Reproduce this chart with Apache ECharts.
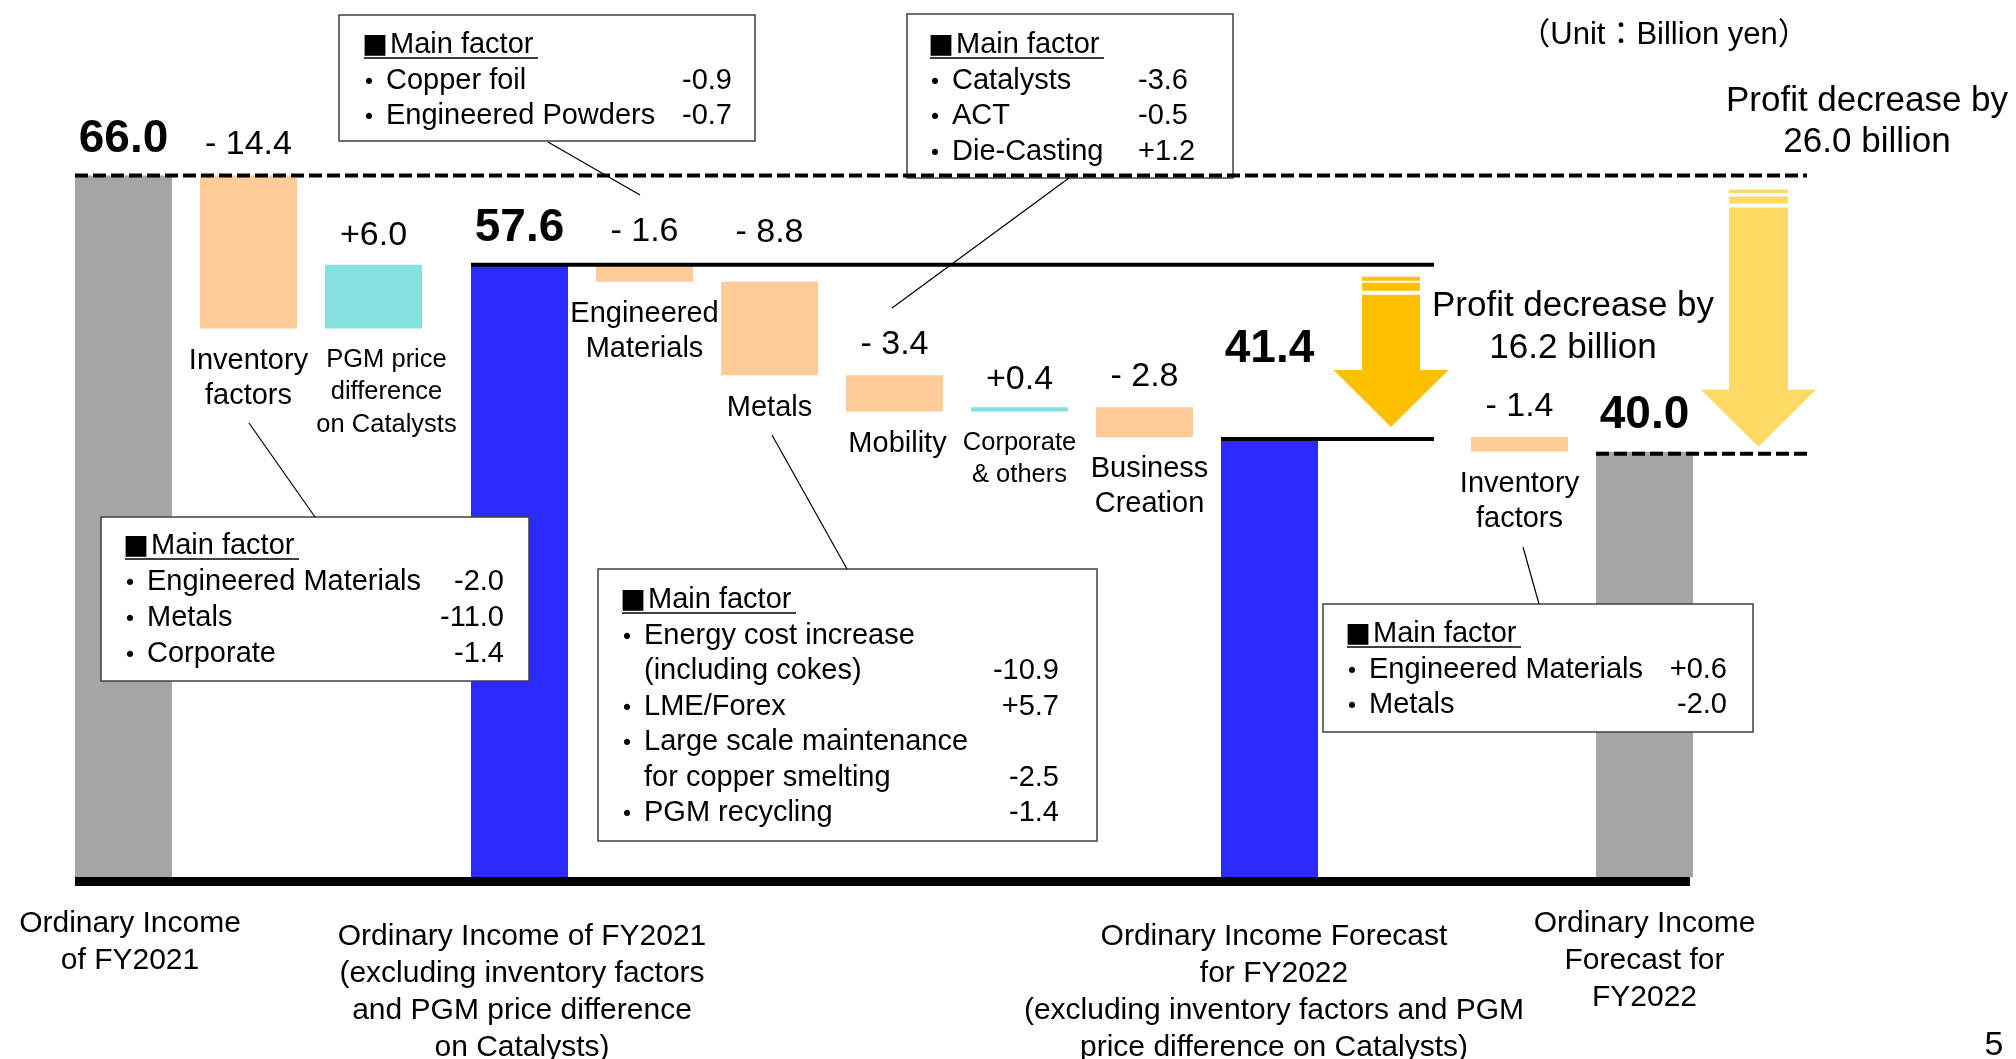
<!DOCTYPE html>
<html>
<head>
<meta charset="utf-8">
<script src="https://cdn.jsdelivr.net/npm/echarts@6/dist/echarts.min.js"></script>
<style>
  html, body { margin: 0; padding: 0; background: #ffffff; }
  #chart { width: 2016px; height: 1059px; }
</style>
</head>
<body>
<div id="chart"></div>
<script>
// Ordinary income bridge: FY2021 results -> FY2022 forecast (billion yen)

const stepLabels = [
  'Ordinary Income\nof FY2021',
  'Inventory\nfactors',
  'PGM price\ndifference\non Catalysts',
  'Ordinary Income of FY2021\n(excluding inventory factors\nand PGM price difference\non Catalysts)',
  'Engineered\nMaterials',
  'Metals',
  'Mobility',
  'Corporate\n& others',
  'Business\nCreation',
  'Ordinary Income Forecast\nfor FY2022\n(excluding inventory factors and PGM\nprice difference on Catalysts)',
  'Inventory\nfactors',
  'Ordinary Income\nForecast for\nFY2022'
];
const stepValues = [66.0, -14.4, 6.0, 57.6, -1.6, -8.8, -3.4, 0.4, -2.8, 41.4, -1.4, 40.0];
const stepKinds = ['reported', 'delta', 'delta', 'core', 'delta', 'delta', 'delta', 'delta', 'delta', 'core', 'delta', 'reported'];

// Breakdown boxes
const invFactorsFY2021 = [['Engineered Materials', '-2.0'], ['Metals', '-11.0'], ['Corporate', '-1.4']];
const engMatFactors = [['Copper foil', '-0.9'], ['Engineered Powders', '-0.7']];
const mobilityFactors = [['Catalysts', '-3.6'], ['ACT', '-0.5'], ['Die-Casting', '+1.2']];
const metalsFactors = [['Energy cost increase\n(including cokes)', '-10.9'], ['LME/Forex', '+5.7'],
  ['Large scale maintenance\nfor copper smelting', '-2.5'], ['PGM recycling', '-1.4']];
const invFactorsFY2022 = [['Engineered Materials', '+0.6'], ['Metals', '-2.0']];

const unitText = '（Unit：Billion yen）';
const decreaseCore = ['Profit decrease by', '16.2 billion'];
const decreaseTotal = ['Profit decrease by', '26.0 billion'];

// two panels: reported adjustments, then the core bridge (one empty slot holds the arrow)
const groups = [[0, 1, 2], [3, 4, 5, 6, 7, 8, 9, null, 10, 11]];

const FONT = '"Liberation Sans", Arial, sans-serif';
const CJK = '"Liberation Sans", "Noto Sans CJK JP", sans-serif';
const COLORS = { reported: '#a5a5a5', core: '#2b2bff', down: '#ffcc99', up: '#85e0e0' };
const BAR_W = 97;

// running levels of the waterfall
const lows = [], highs = [];
let level = 0;
stepValues.forEach((v, i) => {
  if (stepKinds[i] !== 'delta') { lows.push(0); highs.push(v); level = v; }
  else { const next = level + v; lows.push(Math.min(level, next)); highs.push(Math.max(level, next)); level = next; }
});

const labelLift = { 2: 12.5, 4: 16, 5: 32, 7: 11, 9: 64.5 };
const nameShift = { 2: 13, 6: 3, 8: 5 };
const smallName = { 2: true, 7: true };
const axisPad = { 0: [0, 0, 0, 13], 3: [13, 0, 0, 5], 9: [13, 0, 0, 9] };

function valueText(i) {
  const v = stepValues[i];
  if (stepKinds[i] !== 'delta') return v.toFixed(1);
  return v < 0 ? '- ' + Math.abs(v).toFixed(1) : '+' + v.toFixed(1);
}
function colorOf(i) {
  if (stepKinds[i] === 'delta') return stepValues[i] < 0 ? COLORS.down : COLORS.up;
  return COLORS[stepKinds[i]];
}
function baseItem(i) {
  const isDelta = stepKinds[i] === 'delta';
  const small = !!smallName[i];
  return {
    value: lows[i],
    itemStyle: { color: 'rgba(0,0,0,0)' },
    label: isDelta ? {
      show: true, position: 'insideTop', distance: 15,
      formatter: stepLabels[i], color: '#000', textBorderWidth: 0,
      fontFamily: FONT, fontSize: small ? 25.5 : 29, lineHeight: small ? 32.5 : 35,
      offset: [nameShift[i] || 0, 0]
    } : { show: false }
  };
}
function bodyItem(i) {
  const total = stepKinds[i] !== 'delta';
  return {
    value: highs[i] - lows[i],
    itemStyle: { color: colorOf(i) },
    label: {
      show: true, position: 'top',
      distance: labelLift[i] !== undefined ? labelLift[i] : 13.5,
      formatter: valueText(i), color: '#000', textBorderWidth: 0,
      fontFamily: FONT, fontSize: total ? 46 : 34, lineHeight: total ? 46 : 34,
      fontWeight: total ? 'bold' : 'normal'
    }
  };
}
function axisItem(i, k) {
  const item = { value: 'slot' + k };
  if (i !== null && stepKinds[i] !== 'delta' && axisPad[i]) item.textStyle = { padding: axisPad[i] };
  return item;
}

const option = {
  animation: false,
  backgroundColor: '#ffffff',
  grid: [
    { left: 61, width: 375, top: 133, height: 744, containLabel: false, outerBoundsMode: 'none' },
    { left: 457, width: 1250, top: 133, height: 744, containLabel: false, outerBoundsMode: 'none' }
  ],
  xAxis: groups.map((g, gi) => ({
    type: 'category', gridIndex: gi,
    data: g.map((i, k) => axisItem(i, k)),
    axisLine: { show: false }, axisTick: { show: false }, splitLine: { show: false },
    axisLabel: {
      interval: 0, hideOverlap: false, margin: 28.5,
      fontFamily: FONT, fontSize: 30, lineHeight: 37, color: '#000',
      formatter: (val, k) => {
        const i = g[k];
        return (i !== null && stepKinds[i] !== 'delta') ? stepLabels[i] : '';
      }
    }
  })),
  yAxis: groups.map((g, gi) => ({ type: 'value', gridIndex: gi, min: 0, max: 70, show: false })),
  series: groups.flatMap((g, gi) => [
    {
      type: 'bar', name: 'base' + gi, xAxisIndex: gi, yAxisIndex: gi, stack: 'wf' + gi,
      barWidth: BAR_W, silent: true,
      data: g.map(i => i === null ? '-' : baseItem(i))
    },
    {
      type: 'bar', name: 'step' + gi, xAxisIndex: gi, yAxisIndex: gi, stack: 'wf' + gi,
      barWidth: BAR_W,
      data: g.map(i => i === null ? '-' : bodyItem(i))
    }
  ])
};

const chart = echarts.init(document.getElementById('chart'), null, { renderer: 'canvas' });
chart.setOption(option);

// ---- annotation layer ----
const xc = (gi, slot) => chart.convertToPixel({ xAxisIndex: gi }, slot);
const yv = v => chart.convertToPixel({ yAxisIndex: 1 }, v);
const HALF = BAR_W / 2;

function text(str, x, y, size, align, family, weight) {
  return {
    type: 'text', z: 60,
    style: {
      text: str, x: x, y: y, fill: '#000',
      font: (weight || 'normal') + ' ' + size + 'px ' + (family || FONT),
      textAlign: align || 'left', align: align || 'left',
      textVerticalAlign: 'middle', verticalAlign: 'middle'
    }
  };
}
function line(x1, y1, x2, y2, w, dash) {
  return {
    type: 'line', z: 55,
    shape: { x1: x1, y1: y1, x2: x2, y2: y2 },
    style: { stroke: '#000', lineWidth: w, lineDash: dash || null }
  };
}
function arrow(cx, yTop, yTip, color, shaftHalf, gaps) {
  const headH = 57, headHalf = 57.5;
  const headTop = yTip - headH;
  return [
    { type: 'rect', z: 40, shape: { x: cx - shaftHalf, y: yTop + gaps[0], width: shaftHalf * 2, height: gaps[1] }, style: { fill: color } },
    { type: 'rect', z: 40, shape: { x: cx - shaftHalf, y: yTop + gaps[2], width: shaftHalf * 2, height: gaps[3] }, style: { fill: color } },
    {
      type: 'polygon', z: 40,
      shape: { points: [
        [cx - shaftHalf, yTop + gaps[4]], [cx + shaftHalf, yTop + gaps[4]],
        [cx + shaftHalf, headTop], [cx + headHalf, headTop], [cx, yTip],
        [cx - headHalf, headTop], [cx - shaftHalf, headTop]
      ] },
      style: { fill: color }
    }
  ];
}
const STEP = 35.5;
function factorBox(rows, L) {
  const els = [];
  els.push({ type: 'rect', z: 50, shape: { x: L.x, y: L.y, width: L.w, height: L.h },
    style: { fill: '#ffffff', stroke: '#404040', lineWidth: 1.5 } });
  els.push(text('■', L.hx - 2, L.hy, 26, 'left', '"Noto Sans CJK JP", sans-serif'));
  els.push(text('Main factor', L.hx + 26, L.hy, 29, 'left'));
  els.push(line(L.hx, L.hy + 13, L.hx + 174, L.hy + 13, 1.5));
  let y = L.hy;
  rows.forEach(([label, val]) => {
    label.split('\n').forEach((part, k) => {
      y += L.step || STEP;
      if (k === 0) els.push(text('・', L.hx + 5, y, 29, 'center', '"Noto Sans CJK JP", sans-serif'));
      els.push(text(part, L.hx + 22, y, 29, 'left'));
    });
    els.push(text(val, L.vx, y, 29, L.va || 'right'));
  });
  return els;
}

const yTopLevel = yv(stepValues[0]);
const yCore1 = yv(stepValues[3]);
const yCore2 = yv(stepValues[9]);
const yEnd = yv(stepValues[11]);
const yZero = yv(0);
const gray1Left = xc(0, 0) - HALF;
const gray2Right = xc(1, 9) + HALF;

const elements = [].concat(
  [
    line(gray1Left, yTopLevel, 1807, yTopLevel, 4, [13, 5]),
    line(xc(1, 9) - HALF, yEnd + 2, 1809, yEnd + 2, 4, [13, 5]),
    line(xc(1, 0) - HALF, yCore1, 1434, yCore1, 4),
    line(xc(1, 6) - HALF, yCore2 + 2, 1434, yCore2 + 2, 4),
    line(gray1Left, yZero + 4.5, gray2Right - 3, yZero + 4.5, 9)
  ],
  arrow(1391, yCore1, yCore2 - 10, '#ffc000', 29, [12, 4, 18, 8, 30]),
  arrow(1758.5, yTopLevel, yEnd - 5, '#ffd966', 29.5, [14, 3.5, 21, 7, 32]),
  // leader lines from category labels to their breakdown boxes
  [
    line(548, 142, 640, 195, 1.2),
    line(1069, 178, 892, 308, 1.2),
    line(249, 423, 315, 517, 1.2),
    line(772, 435, 847, 569, 1.2),
    line(1523, 547, 1539, 604, 1.2)
  ],
  factorBox(engMatFactors, { x: 339, y: 15, w: 416, h: 126, hx: 364, hy: 45, vx: 732 }),
  factorBox(mobilityFactors, { x: 907, y: 14, w: 326, h: 164, hx: 930, hy: 45, vx: 1138, va: 'left' }),
  factorBox(invFactorsFY2021, { x: 101, y: 517, w: 428, h: 164, hx: 125, hy: 546, vx: 504, step: 36 }),
  factorBox(metalsFactors, { x: 598, y: 569, w: 499, h: 272, hx: 622, hy: 600, vx: 1059 }),
  factorBox(invFactorsFY2022, { x: 1323, y: 604, w: 430, h: 128, hx: 1347, hy: 634, vx: 1727 }),
  [
    text(unitText, 1664, 35, 31, 'center', CJK),
    text(decreaseTotal[0], 1867, 101, 35, 'center'),
    text(decreaseTotal[1], 1867, 142, 35, 'center'),
    text(decreaseCore[0], 1573, 306, 35, 'center'),
    text(decreaseCore[1], 1573, 348, 35, 'center'),
    text('5', 1994, 1046, 34, 'center')
  ]
);

chart.setOption({ graphic: { elements: elements } });
</script>
</body>
</html>
